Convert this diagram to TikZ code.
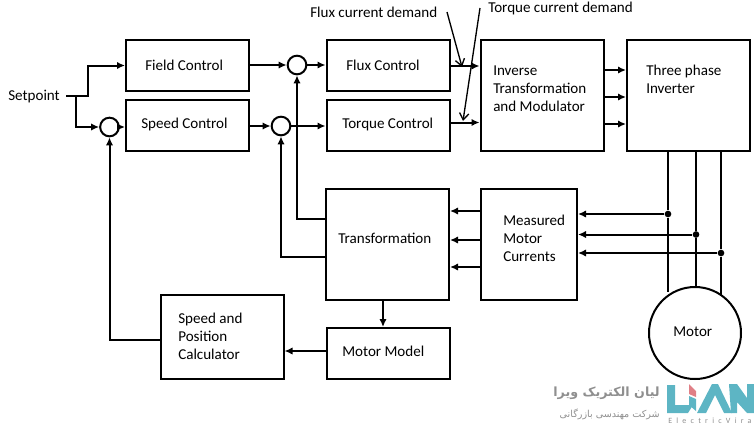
\documentclass[tikz,border=0pt]{standalone}
\usepackage{fontspec}
\setmainfont{Carlito}
\newfontfamily\arabicfont[Script=Arabic]{DejaVu Sans}
\TeXXeTstate=1
\usetikzlibrary{shapes.geometric, arrows.meta, positioning}
\definecolor{logoteal}{HTML}{5DB5C4}
\definecolor{logored}{HTML}{E07F86}
\definecolor{logogray}{HTML}{8F8F8F}

\begin{document}
\begin{tikzpicture}[x=0.75pt, y=-0.75pt]
\tikzstyle{block} = [rectangle, draw, line width=1.5pt, minimum width=92.25pt, minimum height=38.25pt, inner sep=0pt]
\tikzstyle{tallblock} = [block, minimum height=83.25pt]
\tikzstyle{blocktext} = [anchor=west, align=left, inner sep=0pt, font=\fontsize{11.3}{13.5}\selectfont]
\tikzstyle{summer} = [circle, draw, line width=1.5pt, minimum size=14pt, inner sep=0pt]
\tikzstyle{flow} = [-{Latex[length=6pt,width=5.5pt]}, line width=1.5pt]
\tikzstyle{wire} = [line width=1.5pt]
\tikzstyle{demand} = [-{Straight Barb[length=5pt,width=7pt]}, line width=1pt]
\tikzstyle{tap} = [circle, fill, minimum size=5pt, inner sep=0pt]

\useasboundingbox (0,0) rectangle (754,430);

\node (setpoint) [blocktext] at (8,97) {Setpoint};
\node (fieldctl) [block] at (187.5,65.5) {};
\node (speedctl) [block] at (187.5,125.5) {};
\node (fluxctl) [block] at (388,65.5) {};
\node (torquectl) [block] at (388,125.5) {};
\node (inverse) [tallblock] at (542,95.5) {};
\node (inverter) [tallblock] at (688.5,95.5) {};
\node (measured) [tallblock, minimum width=72pt] at (529,244.5) {};
\node (transform) [tallblock] at (387.5,244.5) {};
\node (model) [block] at (388.5,353) {};
\node (calc) [block, minimum height=63pt] at (222,337) {};
\node (motor) [circle, draw, line width=1.5pt, minimum size=69pt, inner sep=0pt] at (695,333) {};

\node (fieldtxt) [blocktext] at (145,65.5) {Field Control};
\node (speedtxt) [blocktext] at (141,124.5) {Speed Control};
\node (fluxtxt) [blocktext] at (346,65.5) {Flux Control};
\node (torquetxt) [blocktext] at (342,124.5) {Torque Control};
\node (inversetxt) [blocktext] at (493,88.5) {Inverse\\Transformation\\and Modulator};
\node (invertertxt) [blocktext] at (646,79.5) {Three phase\\Inverter};
\node (measuredtxt) [blocktext] at (503,238) {Measured\\Motor\\Currents};
\node (transformtxt) [blocktext] at (338,238) {Transformation};
\node (modeltxt) [blocktext] at (342,351.5) {Motor Model};
\node (calctxt) [blocktext] at (178,336) {Speed and\\Position\\Calculator};
\node (motortxt) [blocktext] at (673,332) {Motor};
\node (fluxdemand) [blocktext] at (310,12) {Flux current demand};
\node (torquedemand) [blocktext] at (488,8) {Torque current demand};

\node (sumspeed) [summer] at (109.5,127) {};
\node (sumflux) [summer] at (297,65) {};
\node (sumtorque) [summer] at (281,126) {};

\coordinate (split) at (76,96);
\coordinate (fluxfrom) at (447,12);
\coordinate (fluxtip) at (462,67);
\coordinate (torquefrom) at (480,8);
\coordinate (torquetip) at (463,121);

\draw[wire] (66,96) -- (split);
\draw[flow] (split) -- (88,96) |- (fieldctl.west);
\draw[flow] (split) |- (sumspeed.west);
\draw[flow] (sumspeed.east) -- (speedctl.west |- sumspeed);
\draw[flow] (fieldctl.east |- sumflux) -- (sumflux.west);
\draw[flow] (sumflux.east) -- (fluxctl.west |- sumflux);
\draw[flow] (speedctl.east |- sumtorque) -- (sumtorque.west);
\draw[flow] (sumtorque.east) -- (torquectl.west |- sumtorque);
\draw[flow] (fluxctl.east |- 0,66) -- (inverse.west |- 0,66);
\draw[flow] (torquectl.east |- 0,122.5) -- (inverse.west |- 0,122.5);
\draw[demand] (fluxfrom) -- (fluxtip);
\draw[demand] (torquefrom) -- (torquetip);

\foreach \ya in {70,97,124}
  \draw[flow] (605,\ya) -- (inverter.west |- 0,\ya);

\foreach \xa/\ya/\name in {668/214/tapa, 696/234.5/tapb, 721/253/tapc} {
  \node (\name) [tap] at (\xa,\ya) {};
  \draw[flow] (\name) -- (measured.east |- \name);
}
\draw[wire] (inverter.south -| tapa) -- (tapa) -- (668,292);
\draw[wire] (inverter.south -| tapb) -- (tapb) -- (motor.north -| tapb);
\draw[wire] (inverter.south -| tapc) -- (tapc) -- (721,295);

\foreach \ya in {211,240,267}
  \draw[flow] (measured.west |- 0,\ya) -- (transform.east |- 0,\ya);

\draw[flow] (transform.west |- 0,219) -| (sumflux.south);
\draw[flow] (transform.west |- 0,257) -| (sumtorque.south);
\draw[flow] (calc.west |- 0,340) -| (sumspeed.south);
\draw[flow] (model.west |- 0,351) -- (calc.east |- 0,351);
\draw[flow] (383,300) -- (383,327);

\node (lianfa) [logogray, anchor=east, inner sep=0pt, font=\arabicfont\bfseries\fontsize{9.5}{11}\selectfont] at (660,393) {\beginR لیان الکتریک ویرا\endR};
\node (liansub) [logogray, anchor=east, inner sep=0pt, font=\arabicfont\fontsize{7.2}{8}\selectfont] at (660,414) {\beginR شرکت مهندسی بازرگانی\endR};
\fill[logoteal] (667,385) -- (675,385) -- (675,405) -- (693,405) -- (688,413) -- (667,413) -- cycle;
\fill[logored] (689,384) -- (696,391) -- (696,397) -- (689,394) -- cycle;
\fill[logoteal] (689,396) -- (696,399) -- (696,411) -- (689,405) -- cycle;
\fill[logoteal] (697,413) -- (712,384) -- (718,384) -- (732,413) -- (724,413) -- (715,395) -- (706,413) -- cycle;
\fill[logoteal] (729,384) -- (737,384) -- (747,398) -- (747,384) -- (754,384) -- (754,413) -- (747,413) -- (737,402) -- (737,413) -- (731,413) -- cycle;
\node (lianbrand) [logogray, anchor=west, inner sep=0pt, font=\addfontfeature{LetterSpace=53}\fontsize{6}{7}\selectfont] at (668,421) {ElectricVira};
\end{tikzpicture}
\end{document}
